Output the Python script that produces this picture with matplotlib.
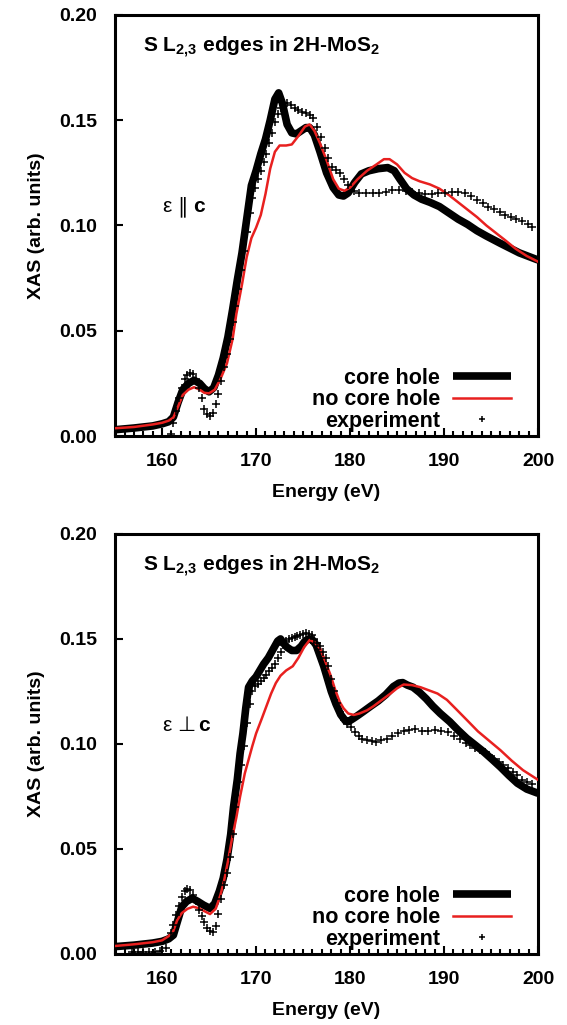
import matplotlib
matplotlib.use("Agg")
import matplotlib.pyplot as plt
from matplotlib.ticker import MultipleLocator, FormatStrFormatter

plt.rcParams['font.family'] = ['Liberation Sans', 'DejaVu Sans']
plt.rcParams['font.weight'] = 'bold'
plt.rcParams['mathtext.fontset'] = 'custom'
plt.rcParams['mathtext.rm'] = 'Liberation Sans:bold'
plt.rcParams['mathtext.bf'] = 'Liberation Sans:bold'

# ---- panel 1: E parallel c ----
par_core_e = [155, 157, 159, 160, 160.7, 161.2, 161.7, 162.2, 162.8, 163.4, 164.0, 164.5, 165.0, 165.5,
              166.0, 166.5, 167.0, 167.5, 168.0, 168.5, 169.0, 169.5, 170.0, 170.5, 171.0, 171.5, 172.0,
              172.4, 172.8, 173.3, 173.8, 174.3, 174.8, 175.3, 175.7, 176.2, 176.8, 177.5, 178.2, 178.8,
              179.3, 179.8, 180.5, 181.2, 182.0, 183.0, 184.0, 184.7, 185.3, 186.0, 186.8, 187.6, 188.5,
              189.5, 190.5, 191.5, 192.5, 193.5, 194.5, 196.0, 198.0, 200.0]
par_core_v = [0.003, 0.0038, 0.0048, 0.0058, 0.0068, 0.009, 0.016, 0.022, 0.025, 0.0265, 0.025, 0.0225,
              0.021, 0.023, 0.029, 0.037, 0.047, 0.060, 0.074, 0.087, 0.103, 0.119, 0.126, 0.134, 0.141,
              0.150, 0.160, 0.163, 0.158, 0.148, 0.144, 0.1435, 0.145, 0.1465, 0.1465, 0.143, 0.135, 0.125,
              0.118, 0.1145, 0.114, 0.1155, 0.1205, 0.1245, 0.126, 0.127, 0.1275, 0.126, 0.122, 0.1175,
              0.1145, 0.1125, 0.111, 0.109, 0.106, 0.103, 0.1005, 0.0975, 0.095, 0.0915, 0.087, 0.0836]

par_nocore_e = [155, 157, 159, 160, 160.7, 161.2, 161.7, 162.2, 162.8, 163.4, 164.0, 164.5, 165.0, 165.6,
                166.2, 166.9, 167.5, 167.9, 168.5, 169.0, 169.5, 170.0, 170.5, 171.0, 171.5, 172.0, 172.5,
                173.2, 173.8, 174.5, 175.2, 175.7, 176.2, 176.8, 177.5, 178.2, 178.8, 179.4, 180.0, 180.8,
                181.8, 182.8, 183.6, 184.2, 185.0, 185.8, 186.6, 187.4, 188.5, 189.5, 190.5, 191.5, 192.5,
                193.5, 194.5, 195.5, 196.5, 197.6, 198.8, 200.0]
par_nocore_v = [0.0037, 0.0043, 0.0055, 0.0063, 0.0073, 0.0088, 0.014, 0.0195, 0.022, 0.0232, 0.022,
                0.0205, 0.0203, 0.022, 0.027, 0.0345, 0.046, 0.058, 0.072, 0.085, 0.094, 0.099, 0.105,
                0.115, 0.127, 0.135, 0.138, 0.138, 0.1385, 0.1425, 0.147, 0.148, 0.145, 0.139, 0.131,
                0.122, 0.1175, 0.1165, 0.118, 0.122, 0.126, 0.129, 0.1315, 0.1315, 0.129, 0.125, 0.1225,
                0.121, 0.1195, 0.1175, 0.1145, 0.111, 0.1075, 0.104, 0.100, 0.0965, 0.093, 0.089, 0.0855,
                0.0828]

par_exp_e = [160.9, 161.2, 161.5, 161.8, 162.1, 162.4, 162.7, 163.0, 163.3, 163.6, 163.9, 164.2, 164.5,
             164.8, 165.1, 165.4, 165.7, 166.0, 166.3, 166.6, 166.9, 167.2, 167.5, 167.8, 168.1, 168.4,
             168.7, 169.0, 169.3, 169.6, 169.9, 170.2, 170.5, 170.8, 171.1, 171.4, 171.7, 172.0, 172.3,
             172.6, 172.9, 173.3, 173.7, 174.1, 174.5, 174.9, 175.3, 175.7, 176.1, 176.5, 176.9, 177.3,
             177.7, 178.1, 178.5, 178.9, 179.3, 179.8, 180.4, 181.0, 181.7, 182.4, 183.1, 183.8, 184.5,
             185.2, 185.9, 186.6, 187.3, 188.0, 188.7, 189.4, 190.1, 190.8, 191.5, 192.2, 192.9, 193.5,
             194.1, 194.7, 195.3, 195.9, 196.5, 197.1, 197.7, 198.3, 198.9, 199.4]
par_exp_v = [0.001, 0.006, 0.012, 0.018, 0.023, 0.027, 0.029, 0.030, 0.0295, 0.027, 0.023, 0.018, 0.013,
             0.0105, 0.0095, 0.011, 0.015, 0.020, 0.026, 0.033, 0.039, 0.046, 0.054, 0.062, 0.070, 0.079,
             0.088, 0.097, 0.106, 0.113, 0.118, 0.122, 0.126, 0.130, 0.134, 0.139, 0.144, 0.149, 0.153,
             0.156, 0.158, 0.158, 0.157, 0.156, 0.155, 0.154, 0.1535, 0.1525, 0.151, 0.147, 0.142, 0.137,
             0.132, 0.128, 0.1265, 0.125, 0.122, 0.119, 0.1165, 0.1155, 0.1155, 0.1155, 0.1155, 0.116,
             0.117, 0.117, 0.1165, 0.116, 0.1155, 0.115, 0.115, 0.1155, 0.1155, 0.116, 0.116, 0.1155,
             0.114, 0.112, 0.1105, 0.109, 0.108, 0.1065, 0.105, 0.104, 0.103, 0.102, 0.1005, 0.0995]

# ---- panel 2: E perpendicular c ----
perp_core_e = [155, 157, 159, 160, 160.7, 161.2, 161.6, 162.1, 162.6, 163.2, 163.8, 164.4, 165.1, 165.6,
               166.1, 166.5, 166.9, 167.3, 167.6, 168.0, 168.3, 168.6, 168.9, 169.2, 169.6, 170.0, 170.4,
               170.8, 171.3, 171.8, 172.3, 172.6, 172.9, 173.3, 173.8, 174.3, 174.8, 175.2, 175.6, 176.0,
               176.4, 176.8, 177.2, 177.6, 178.0, 178.5, 179.0, 179.5, 179.8, 180.3, 180.8, 181.4, 182.2,
               183.0, 183.8, 184.6, 185.2, 185.6, 186.1, 186.7, 187.4, 188.1, 188.8, 189.6, 190.6, 191.5,
               192.4, 193.3, 194.2, 195.1, 196.0, 196.9, 197.8, 198.8, 200.0]
perp_core_v = [0.0035, 0.0042, 0.0052, 0.006, 0.0072, 0.009, 0.015, 0.0225, 0.025, 0.0265, 0.025, 0.0233,
               0.0217, 0.024, 0.030, 0.036, 0.045, 0.057, 0.070, 0.083, 0.0955, 0.105, 0.117, 0.127, 0.130,
               0.132, 0.135, 0.138, 0.141, 0.145, 0.149, 0.150, 0.148, 0.146, 0.1445, 0.1445, 0.1465,
               0.149, 0.150, 0.1495, 0.147, 0.142, 0.137, 0.131, 0.125, 0.119, 0.114, 0.111, 0.1106,
               0.112, 0.1135, 0.1154, 0.118, 0.1205, 0.1235, 0.1273, 0.129, 0.1292, 0.128, 0.127, 0.1245,
               0.1215, 0.118, 0.1145, 0.1106, 0.1065, 0.1027, 0.0995, 0.0963, 0.0927, 0.089, 0.085,
               0.0813, 0.0785, 0.0765]

perp_nocore_e = [155, 157, 159, 160, 160.7, 161.2, 161.6, 162.1, 162.7, 163.3, 163.9, 164.4, 165.1, 165.7,
                 166.2, 166.6, 167.0, 167.4, 167.9, 168.3, 168.8, 169.2, 169.6, 170.0, 170.6, 171.1, 171.6,
                 172.1, 172.6, 173.2, 173.9, 174.5, 175.1, 175.7, 176.2, 176.8, 177.3, 177.9, 178.4, 178.9,
                 179.3, 179.8, 180.4, 181.0, 181.8, 182.5, 183.4, 184.3, 185.0, 185.7, 186.6, 187.5, 188.4,
                 189.3, 190.3, 191.3, 192.4, 193.6, 194.8, 196.0, 197.2, 198.4, 199.2, 200.0]
perp_nocore_v = [0.0038, 0.0046, 0.0056, 0.0065, 0.0085, 0.011, 0.016, 0.0195, 0.0215, 0.0225, 0.0218,
                 0.0206, 0.019, 0.0215, 0.028, 0.035, 0.044, 0.054, 0.065, 0.075, 0.086, 0.0925, 0.099,
                 0.105, 0.112, 0.118, 0.124, 0.129, 0.1325, 0.135, 0.137, 0.141, 0.146, 0.1495, 0.1485,
                 0.1455, 0.140, 0.133, 0.126, 0.120, 0.117, 0.1145, 0.1138, 0.1145, 0.116, 0.118, 0.121,
                 0.124, 0.1265, 0.1283, 0.128, 0.127, 0.1255, 0.124, 0.121, 0.1165, 0.1115, 0.106, 0.1015,
                 0.097, 0.092, 0.0875, 0.0852, 0.0829]

perp_exp_e = [156.8, 157.4, 158.0, 158.6, 159.2, 159.8, 160.4, 160.9, 161.2, 161.5, 161.8, 162.1, 162.4,
              162.7, 163.0, 163.3, 163.6, 163.9, 164.2, 164.5, 164.8, 165.1, 165.4, 165.7, 166.0, 166.3,
              166.6, 166.9, 167.2, 167.5, 167.8, 168.1, 168.4, 168.7, 169.0, 169.3, 169.6, 169.9, 170.2,
              170.5, 170.8, 171.1, 171.4, 171.7, 172.0, 172.3, 172.6, 172.9, 173.2, 173.5, 173.8, 174.1,
              174.4, 174.7, 175.0, 175.3, 175.6, 175.9, 176.2, 176.5, 176.8, 177.1, 177.4, 177.7, 178.0,
              178.3, 178.6, 178.9, 179.3, 179.7, 180.1, 180.5, 180.9, 181.3, 181.8, 182.3, 182.8, 183.3,
              183.9, 184.5, 185.1, 185.7, 186.3, 186.9, 187.6, 188.3, 189.0, 189.7, 190.4, 191.1, 191.7,
              192.3, 192.8, 193.3, 193.8, 194.3, 194.8, 195.3, 195.8, 196.3, 196.8, 197.3, 197.8, 198.3,
              198.8, 199.3]
perp_exp_v = [0.001, 0.001, 0.001, 0.001, 0.001, 0.0015, 0.003, 0.0098, 0.014, 0.0185, 0.023, 0.027, 0.030,
              0.0308, 0.0305, 0.028, 0.025, 0.021, 0.018, 0.0154, 0.0125, 0.0108, 0.0105, 0.0135, 0.019,
              0.026, 0.033, 0.0385, 0.046, 0.057, 0.070, 0.082, 0.090, 0.099, 0.110, 0.119, 0.125, 0.1275,
              0.1285, 0.130, 0.1315, 0.133, 0.1345, 0.136, 0.138, 0.141, 0.144, 0.147, 0.149, 0.150,
              0.1505, 0.151, 0.1515, 0.152, 0.1525, 0.1527, 0.1525, 0.152, 0.150, 0.148, 0.1465, 0.144,
              0.141, 0.137, 0.131, 0.125, 0.1195, 0.115, 0.1115, 0.1095, 0.108, 0.1055, 0.104, 0.1025,
              0.1017, 0.1012, 0.101, 0.102, 0.1025, 0.1038, 0.105, 0.106, 0.1065, 0.107, 0.106, 0.106,
              0.1065, 0.106, 0.1055, 0.104, 0.1025, 0.1005, 0.0995, 0.098, 0.097, 0.096, 0.0945, 0.093,
              0.0915, 0.090, 0.0885, 0.0865, 0.085, 0.083, 0.082, 0.081]

panels = [
    (par_core_e, par_core_v, par_nocore_e, par_nocore_v, par_exp_e, par_exp_v, '∥', 0.184),
    (perp_core_e, perp_core_v, perp_nocore_e, perp_nocore_v, perp_exp_e, perp_exp_v, '⊥', 0.196),
]

fig = plt.figure(figsize=(5.67, 10.25), dpi=100)
axes = [fig.add_axes([0.203, 0.5746, 0.746, 0.4108]),
        fig.add_axes([0.203, 0.0693, 0.746, 0.4098])]

for ax, (ce, cv, ne, nv, xe, xv, sym, cpos) in zip(axes, panels):
    ax.plot(ce, cv, color='black', linewidth=5.5, solid_capstyle='butt', label='core hole', zorder=2)
    ax.plot(ne, nv, color='#e8201f', linewidth=1.8, label='no core hole', zorder=3)
    ax.plot(xe, xv, linestyle='none', marker='+', color='black', markersize=6, markeredgewidth=1.1,
            label='experiment', zorder=4)

    ax.set_xlim(155, 200)
    ax.set_ylim(0, 0.2)
    ax.xaxis.set_major_locator(MultipleLocator(10))
    ax.xaxis.set_minor_locator(MultipleLocator(1))
    ax.yaxis.set_major_locator(MultipleLocator(0.05))
    ax.yaxis.set_major_formatter(FormatStrFormatter('%.2f'))
    ax.tick_params(axis='x', which='major', direction='in', length=6, width=1.5, top=False,
                   labelsize=14, pad=12)
    ax.tick_params(axis='x', which='minor', direction='in', length=3.5, width=1.5, top=False)
    ax.tick_params(axis='y', which='major', direction='in', length=6, width=1.5, right=False,
                   labelsize=14, pad=13)
    for s in ax.spines.values():
        s.set_linewidth(2.2)

    ax.set_xlabel('Energy (eV)', fontsize=14, fontweight='bold', labelpad=10)
    ax.set_ylabel('XAS (arb. units)', fontsize=14, fontweight='bold', labelpad=10)

    ax.text(0.066, 0.924, r'S L$_{2{,}3}$ edges in 2H-MoS$_2$', transform=ax.transAxes,
            fontsize=15, fontweight='bold', va='center', ha='left')
    ax.text(0.111, 0.545, 'ε', transform=ax.transAxes, fontsize=15, fontweight='normal',
            va='center', ha='left')
    ax.text(0.148, 0.545, sym, transform=ax.transAxes, fontsize=15, fontweight='normal',
            va='center', ha='left', family='DejaVu Sans')
    ax.text(cpos, 0.545, 'c', transform=ax.transAxes, fontsize=15, fontweight='bold',
            va='center', ha='left')

    ax.legend(loc='lower right', bbox_to_anchor=(0.936, 0.01), frameon=False, markerfirst=False,
              fontsize=15.5, handlelength=2.7, handletextpad=0.6, labelspacing=0.02, borderpad=0,
              borderaxespad=0, markerscale=0.7)

fig.savefig('out.png', dpi=100)
